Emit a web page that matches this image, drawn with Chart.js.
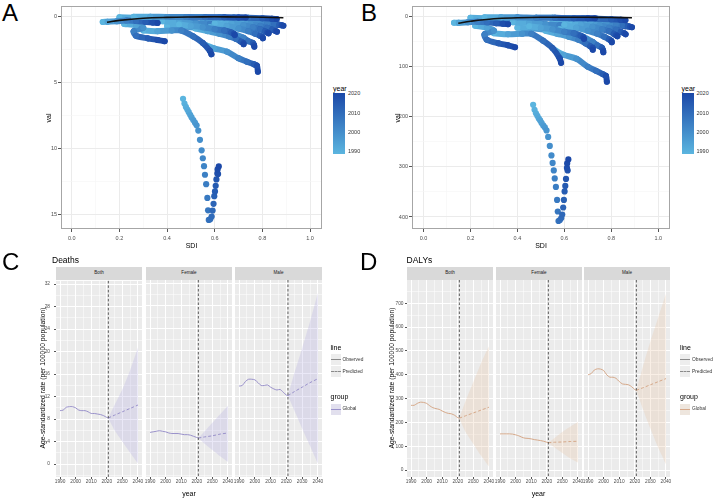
<!DOCTYPE html>
<html>
<head>
<meta charset="utf-8">
<script src="https://cdn.jsdelivr.net/npm/chart.js@4.4.0/dist/chart.umd.min.js"></script>
<style>
  body { margin: 0; width: 713px; height: 499px; overflow: hidden; position: relative; background: #fff;
         font-family: "Liberation Sans", Arial, sans-serif; }
  canvas { position: absolute; }
  .t { position: absolute; white-space: nowrap; line-height: 1; }
  .key { position: absolute; width: 10px; height: 11px; background: #EDEDED; }
  .key i { position: absolute; left: 0; right: 0; top: 5px; height: 0; }
</style>
</head>
<body>
<script>
// ---- A / B : SDI vs rate trajectories, coloured by year ----
const keyYears = [1990, 1995, 2000, 2005, 2010, 2015, 2019, 2021];
const sdiTraj = [
  [0.26, 0.33, 0.40, 0.48, 0.56, 0.64, 0.70, 0.73],
  [0.48, 0.55, 0.62, 0.68, 0.74, 0.80, 0.84, 0.86],
  [0.13, 0.15, 0.19, 0.23, 0.27, 0.31, 0.34, 0.36],
  [0.22, 0.27, 0.30, 0.26, 0.27, 0.32, 0.36, 0.39],
  [0.30, 0.36, 0.42, 0.46, 0.51, 0.55, 0.58, 0.586],
  [0.561, 0.596, 0.652, 0.70, 0.735, 0.765, 0.777, 0.781],
  [0.45, 0.50, 0.55, 0.60, 0.64, 0.67, 0.68, 0.684],
  [0.52, 0.57, 0.62, 0.66, 0.69, 0.71, 0.72, 0.721],
  [0.58, 0.63, 0.68, 0.72, 0.74, 0.76, 0.765, 0.766],
  [0.60, 0.65, 0.70, 0.74, 0.77, 0.79, 0.80, 0.802],
  [0.62, 0.67, 0.72, 0.76, 0.79, 0.81, 0.82, 0.826],
  [0.66, 0.71, 0.75, 0.79, 0.82, 0.84, 0.855, 0.861],
  [0.70, 0.74, 0.78, 0.82, 0.85, 0.87, 0.88, 0.888],
  [0.38, 0.45, 0.52, 0.58, 0.64, 0.70, 0.74, 0.76],
  [0.40, 0.46, 0.52, 0.57, 0.61, 0.64, 0.66, 0.67],
  [0.55, 0.62, 0.68, 0.74, 0.79, 0.83, 0.86, 0.87],
  [0.20, 0.26, 0.32, 0.38, 0.44, 0.50, 0.54, 0.56]
];
const deathTraj = [
  [0.00, 0.00, 0.02, 0.03, 0.04, 0.05, 0.06, 0.06],
  [0.02, 0.03, 0.05, 0.06, 0.08, 0.12, 0.15, 0.18],
  [0.40, 0.38, 0.35, 0.30, 0.33, 0.40, 0.45, 0.48],
  [0.55, 0.65, 0.85, 1.10, 1.45, 1.65, 1.77, 1.87],
  [1.05, 1.10, 1.05, 1.05, 1.50, 2.00, 2.60, 2.86],
  [2.15, 2.40, 2.66, 3.16, 3.42, 3.62, 3.72, 4.18],
  [0.60, 0.70, 0.80, 0.95, 1.05, 1.20, 1.30, 1.39],
  [0.90, 1.10, 1.30, 1.50, 1.70, 1.90, 2.00, 2.10],
  [0.80, 1.00, 1.30, 1.60, 1.85, 2.00, 2.15, 2.28],
  [0.50, 0.70, 0.90, 1.10, 1.30, 1.45, 1.55, 1.64],
  [0.35, 0.50, 0.65, 0.80, 0.95, 1.10, 1.20, 1.26],
  [0.25, 0.40, 0.55, 0.70, 0.85, 0.98, 1.08, 1.14],
  [0.15, 0.25, 0.35, 0.45, 0.55, 0.62, 0.65, 0.68],
  [0.35, 0.40, 0.50, 0.55, 0.60, 0.70, 0.75, 0.80],
  [0.70, 0.75, 0.85, 1.00, 1.15, 1.30, 1.40, 1.45],
  [0.30, 0.35, 0.40, 0.45, 0.50, 0.55, 0.60, 0.62],
  [0.05, 0.08, 0.12, 0.20, 0.30, 0.45, 0.55, 0.60]
];
const dalyTraj = [
  [1, 1, 1, 2, 2, 3, 3, 3],
  [2, 2, 3, 3, 4, 5, 6, 7],
  [12, 12, 11, 10, 11, 13, 14, 15],
  [18, 22, 28, 35, 46, 53, 57, 61],
  [33, 35, 34, 34, 48, 63, 83, 92],
  [67, 76, 84, 100, 108, 115, 118, 130],
  [19, 22, 25, 30, 33, 38, 41, 44],
  [28, 34, 40, 46, 53, 59, 62, 66],
  [25, 31, 40, 50, 57, 62, 67, 71],
  [16, 22, 28, 34, 40, 45, 48, 51],
  [11, 16, 20, 25, 29, 34, 37, 39],
  [8, 12, 17, 22, 26, 30, 33, 35],
  [5, 8, 11, 14, 17, 19, 20, 21],
  [11, 12, 15, 17, 19, 22, 23, 25],
  [22, 23, 26, 31, 36, 40, 43, 45],
  [9, 11, 12, 14, 15, 17, 19, 19],
  [2, 3, 4, 6, 9, 14, 17, 19]
];
const fitSdi = [0.148, 0.2, 0.3, 0.4, 0.5, 0.6, 0.7, 0.8, 0.888];
const fitDeath = [0.43, 0.28, 0.12, 0.05, 0.02, 0.01, 0.02, 0.04, 0.08];
const fitDaly = [13, 9, 4, 2, 1, 1, 1, 1.5, 2];

const focusYears = [1990, 1991, 1992, 1993, 1994, 1995, 1996, 1997, 1998, 1999, 2000, 2001, 2002, 2003, 2004, 2005,
                    2006, 2007, 2008, 2009, 2010, 2011, 2012, 2013, 2014, 2015, 2016, 2017, 2018, 2019, 2020, 2021];
const focusSdi = [0.467, 0.473, 0.479, 0.485, 0.491, 0.497, 0.503, 0.510, 0.517, 0.524, 0.531, 0.538, 0.545, 0.550, 0.555, 0.559,
                  0.564, 0.569, 0.572, 0.575, 0.581, 0.587, 0.591, 0.595, 0.598, 0.601, 0.604, 0.607, 0.614, 0.611, 0.612, 0.617];
const focusDeath = [6.24, 6.60, 6.85, 7.05, 7.25, 7.45, 7.65, 7.85, 8.05, 8.25, 8.65, 9.35, 10.15, 10.75, 11.35, 12.00,
                    12.72, 13.76, 14.70, 15.43, 15.38, 15.18, 14.72, 14.21, 13.63, 13.27, 12.84, 12.36, 11.95, 11.90, 11.60, 11.37];
const focusDaly = [176, 186, 193, 198, 203, 207, 212, 217, 221, 227, 240, 258, 277, 292, 307, 323,
                   340, 366, 389, 408, 406, 402, 395, 381, 366, 349, 338, 324, 307, 302, 293, 285];

// ---- C / D : observed and predicted age-standardized rates ----
const sexes = ['Both', 'Female', 'Male'];
const obsYears = [1990, 1992, 1994, 1996, 1998, 2000, 2002, 2004, 2006, 2008, 2010, 2012, 2014, 2016, 2018, 2020, 2021];
const predYears = [2021, 2025, 2030, 2035, 2040];
const cutYear = 2021;

const deathObs = [
  [9.5, 9.6, 10.1, 10.2, 10.2, 10.0, 9.6, 9.5, 9.5, 9.3, 9.0, 9.0, 8.9, 8.8, 8.6, 8.3, 8.2],
  [5.6, 5.7, 5.8, 5.9, 5.8, 5.7, 5.5, 5.4, 5.4, 5.4, 5.3, 5.2, 5.2, 5.1, 4.9, 4.7, 4.6],
  [13.8, 13.9, 14.6, 15.0, 15.0, 14.9, 14.4, 13.9, 13.9, 14.0, 13.6, 13.3, 13.1, 13.2, 12.7, 12.2, 12.1]
];
const deathPred = [[8.2, 8.7, 9.3, 9.9, 10.5], [4.6, 4.8, 5.0, 5.3, 5.5], [12.1, 12.8, 13.6, 14.4, 15.1]];
const deathUpper = [[8.2, 10.5, 13.3, 16.7, 20.7], [4.6, 5.8, 7.3, 8.8, 10.3], [12.1, 16.0, 20.5, 25.2, 30.3]];
const deathLower = [[8.2, 6.0, 4.0, 2.0, 0.1], [4.6, 3.6, 2.5, 1.4, 0.4], [12.1, 9.5, 6.3, 3.2, 0.1]];

const dalyObs = [
  [272, 272, 280, 285, 284, 280, 270, 262, 258, 255, 248, 242, 238, 236, 230, 220, 218],
  [152, 152, 152, 152, 151, 148, 144, 138, 134, 133, 131, 128, 126, 124, 121, 117, 115],
  [400, 405, 420, 425, 424, 418, 400, 390, 390, 385, 372, 362, 360, 358, 350, 338, 335]
];
const dalyPred = [[218, 228, 240, 252, 264], [115, 117, 118, 120, 121], [335, 345, 358, 371, 384]];
const dalyUpper = [[218, 290, 370, 450, 520], [115, 135, 160, 182, 202], [335, 430, 540, 640, 740]];
const dalyLower = [[218, 160, 110, 60, 15], [115, 95, 72, 50, 32], [335, 260, 175, 95, 25]];

Chart.defaults.font.family = '"Liberation Sans", Arial, sans-serif';

const lowBlue = [91, 181, 223];
const highBlue = [27, 72, 168];
function yearColor(yr) {
  const t = Math.max(0, Math.min(1, (yr - 1990) / (2021 - 1990)));
  const c = lowBlue.map((v, i) => Math.round(v + (highBlue[i] - v) * t));
  return `rgb(${c[0]},${c[1]},${c[2]})`;
}

function makeCanvas(left, top, w, h) {
  const c = document.createElement('canvas');
  c.width = w; c.height = h;
  c.style.left = left + 'px'; c.style.top = top + 'px';
  c.style.width = w + 'px'; c.style.height = h + 'px';
  document.body.appendChild(c);
  return c.getContext('2d');
}

function text(str, x, y, size, opts = {}) {
  const d = document.createElement('div');
  d.className = 't';
  d.textContent = str;
  d.style.fontSize = size + 'px';
  d.style.left = x + 'px';
  d.style.top = y + 'px';
  d.style.color = opts.color || '#000';
  const ax = opts.ax === undefined ? -50 : opts.ax;
  d.style.transform = `translate(${ax}%, -50%)` + (opts.rot ? ` rotate(${opts.rot}deg)` : '');
  document.body.appendChild(d);
  return d;
}

const panelBg = {
  id: 'panelBg',
  beforeDraw(chart, args, opts) {
    const a = chart.chartArea, c = chart.ctx;
    c.save();
    c.fillStyle = opts.color;
    c.fillRect(a.left, a.top, a.right - a.left, a.bottom - a.top);
    c.restore();
  },
  afterDraw(chart, args, opts) {
    if (!opts.border) return;
    const a = chart.chartArea, c = chart.ctx;
    c.save();
    c.strokeStyle = opts.border;
    c.lineWidth = 1;
    c.strokeRect(Math.round(a.left) + 0.5, Math.round(a.top) + 0.5,
                 Math.round(a.right - a.left) - 1, Math.round(a.bottom - a.top) - 1);
    c.restore();
  }
};

const cutLine = {
  id: 'cutLine',
  afterDatasetsDraw(chart, args, opts) {
    const a = chart.chartArea, c = chart.ctx;
    const x = chart.scales.x.getPixelForValue(opts.value);
    c.save();
    c.strokeStyle = '#3a3a3a';
    c.lineWidth = 0.8;
    c.setLineDash([2.5, 2]);
    c.beginPath(); c.moveTo(x, a.top); c.lineTo(x, a.bottom); c.stroke();
    c.restore();
  }
};

// scatter of SDI vs val (panels A and B)
function drawTrajectory(plot, xMin, xMax, yMin, yMax, yStep, vals, fitVals, focusVals) {
  const yW = 30, padR = 10, padT = 6, xH = 16;
  const ctx = makeCanvas(plot.left - yW, plot.top - padT,
                         plot.right - plot.left + yW + padR, plot.bottom - plot.top + padT + xH);
  const datasets = [];
  datasets.push({
    data: fitSdi.map((s, i) => ({x: s, y: fitVals[i]})),
    showLine: true, borderColor: '#111', borderWidth: 1.6, pointRadius: 0, tension: 0.4
  });
  datasets.push({
    data: focusYears.map((yr, i) => ({x: focusSdi[i], y: focusVals[i]})),
    showLine: false, pointRadius: 3.1, pointBorderWidth: 0,
    pointBackgroundColor: focusYears.map(yearColor)
  });
  sdiTraj.forEach((row, i) => {
    datasets.push({
      data: row.map((s, k) => ({x: s, y: vals[i][k]})),
      showLine: true, borderWidth: 6, borderCapStyle: 'round', borderJoinStyle: 'round', tension: 0.3,
      borderColor: yearColor(2005),
      segment: { borderColor: c => yearColor((keyYears[c.p0DataIndex] + keyYears[c.p1DataIndex]) / 2) },
      pointRadius: 3, pointBorderWidth: 0, pointBackgroundColor: keyYears.map(yearColor)
    });
  });

  new Chart(ctx, {
    type: 'scatter',
    data: { datasets },
    plugins: [panelBg],
    options: {
      responsive: false, animation: false, events: [],
      layout: { padding: { top: padT, right: padR, left: 0, bottom: 0 } },
      plugins: { legend: { display: false }, tooltip: { enabled: false },
                 panelBg: { color: '#fff', border: '#a6a6a6' } },
      scales: {
        x: {
          type: 'linear', min: xMin, max: xMax,
          border: { display: false },
          ticks: { stepSize: 0.1, includeBounds: false, autoSkip: false, maxRotation: 0, padding: 3,
                   color: '#4d4d4d', font: { size: 5.5 },
                   callback: v => Math.round(v * 10) % 2 === 0 ? v.toFixed(1) : '' },
          grid: { color: c => Math.round(c.tick.value * 10) % 2 === 0 ? '#EBEBEB' : '#F5F5F5',
                  lineWidth: c => Math.round(c.tick.value * 10) % 2 === 0 ? 1 : 0.6,
                  tickLength: 3,
                  tickColor: c => Math.round(c.tick.value * 10) % 2 === 0 ? '#555' : 'rgba(0,0,0,0)' },
          afterFit: s => { s.height = xH; }
        },
        y: {
          type: 'linear', reverse: true, min: yMin, max: yMax,
          border: { display: false },
          ticks: { stepSize: yStep, includeBounds: false, autoSkip: false, padding: 1,
                   color: '#4d4d4d', font: { size: 5.5 },
                   callback: v => Math.round(v / yStep) % 2 === 0 ? String(v) : '' },
          grid: { color: c => Math.round(c.tick.value / yStep) % 2 === 0 ? '#EBEBEB' : '#F5F5F5',
                  lineWidth: c => Math.round(c.tick.value / yStep) % 2 === 0 ? 1 : 0.6,
                  tickLength: 3,
                  tickColor: c => Math.round(c.tick.value / yStep) % 2 === 0 ? '#555' : 'rgba(0,0,0,0)' },
          afterFit: s => { s.width = yW; }
        }
      }
    }
  });
}

// one facet of panels C and D
function drawFacet(plot, showY, yPad, yMin, yMax, yStep, obs, pred, upper, lower, lineColor, bandColor) {
  const yW = showY ? 22 : 0, padL = showY ? 0 : 10, padR = 10, padT = 6, xH = 12;
  const ctx = makeCanvas(plot.left - yW - padL, plot.top - padT,
                         plot.right - plot.left + yW + padL + padR, plot.bottom - plot.top + padT + xH);
  const major = v => Math.round(v / yStep) % 2 === 0;
  new Chart(ctx, {
    type: 'line',
    data: { datasets: [
      { data: obsYears.map((yr, i) => ({x: yr, y: obs[i]})), borderColor: lineColor, borderWidth: 1,
        pointRadius: 0, tension: 0.3 },
      { data: predYears.map((yr, i) => ({x: yr, y: pred[i]})), borderColor: lineColor, borderWidth: 1,
        borderDash: [3, 2], pointRadius: 0, tension: 0.3 },
      { data: predYears.map((yr, i) => ({x: yr, y: upper[i]})), borderColor: 'rgba(0,0,0,0)', borderWidth: 0,
        pointRadius: 0, fill: '+1', backgroundColor: bandColor, tension: 0.2 },
      { data: predYears.map((yr, i) => ({x: yr, y: lower[i]})), borderColor: 'rgba(0,0,0,0)', borderWidth: 0,
        pointRadius: 0, tension: 0.2 }
    ]},
    plugins: [panelBg, cutLine],
    options: {
      responsive: false, animation: false, events: [],
      layout: { padding: { top: padT, right: padR, left: padL, bottom: 0 } },
      plugins: { legend: { display: false }, tooltip: { enabled: false },
                 panelBg: { color: '#EBEBEB' }, cutLine: { value: cutYear } },
      scales: {
        x: {
          type: 'linear', min: 1987.4, max: 2042.6,
          border: { display: false },
          ticks: { stepSize: 5, includeBounds: false, autoSkip: false, maxRotation: 0, padding: 0,
                   color: '#4d4d4d', font: { size: 4.8 },
                   callback: v => v % 10 === 0 ? String(v) : '' },
          grid: { color: '#fff', lineWidth: c => c.tick.value % 10 === 0 ? 1 : 0.5, tickLength: 2,
                  tickColor: c => c.tick.value % 10 === 0 ? '#555' : 'rgba(0,0,0,0)' },
          afterFit: s => { s.height = xH; }
        },
        y: {
          type: 'linear', min: yMin, max: yMax,
          border: { display: false },
          ticks: { display: showY, stepSize: yStep, includeBounds: false, autoSkip: false, padding: yPad,
                   color: '#4d4d4d', font: { size: 4.8 },
                   callback: v => major(v) ? String(v) : '' },
          grid: { color: '#fff', lineWidth: c => major(c.tick.value) ? 1 : 0.5, drawTicks: showY, tickLength: 2,
                  tickColor: c => major(c.tick.value) ? '#555' : 'rgba(0,0,0,0)' },
          afterFit: s => { s.width = yW; }
        }
      }
    }
  });
}

function colorBar(left) {
  text('year', left, 88, 7, { ax: 0 });
  const bar = document.createElement('div');
  bar.style.cssText = `position:absolute;left:${left}px;top:92.5px;width:12px;height:61px;` +
    `background:linear-gradient(to bottom, ${yearColor(2021)}, ${yearColor(1990)});`;
  document.body.appendChild(bar);
  [2020, 2010, 2000, 1990].forEach(yr => {
    text(String(yr), left + 15, 152.3 - (yr - 1990) * 1.933, 5.5, { ax: 0, color: '#333' });
  });
}

function facetLegend(left, lineColor, bandBg) {
  text('line', left, 346.7, 7, { ax: 0 });
  const keys = [['Observed', 'solid', 359.5], ['Predicted', 'dashed', 371.5]];
  keys.forEach(([lab, style, y]) => {
    const k = document.createElement('div');
    k.className = 'key';
    k.style.left = left + 'px'; k.style.top = (y - 5.5) + 'px';
    k.innerHTML = `<i style="border-top:1px ${style} #8a8a8a"></i>`;
    document.body.appendChild(k);
    text(lab, left + 12, y, 4.8, { ax: 0, color: '#333' });
  });
  text('group', left, 396, 7, { ax: 0 });
  const g = document.createElement('div');
  g.className = 'key';
  g.style.left = left + 'px'; g.style.top = (409 - 5.5) + 'px';
  g.style.background = bandBg;
  g.innerHTML = `<i style="border-top:1px solid ${lineColor}"></i>`;
  document.body.appendChild(g);
  text('Global', left + 12, 409, 4.8, { ax: 0, color: '#333' });
}

// ---- panel A ----
const plotA = { left: 61, right: 322, top: 6, bottom: 229 };
drawTrajectory(plotA, -0.045, 1.05, -0.81, 16.12, 2.5, deathTraj, fitDeath, focusDeath);
text('SDI', (plotA.left + plotA.right) / 2, 245, 7);
text('val', 48, (plotA.top + plotA.bottom) / 2, 7, { rot: -90 });
colorBar(333);

// ---- panel B ----
const plotB = { left: 412, right: 670, top: 6, bottom: 229 };
drawTrajectory(plotB, -0.049, 1.05, -21.5, 424, 50, dalyTraj, fitDaly, focusDaly);
text('SDI', (plotB.left + plotB.right) / 2, 245, 7);
text('val', 396.5, (plotB.top + plotB.bottom) / 2, 7, { rot: -90 });
colorBar(681.5);

// ---- panels C and D ----
const facetsC = [{ left: 56, right: 142 }, { left: 146, right: 232 }, { left: 235, right: 322 }];
const facetsD = [{ left: 407, right: 493 }, { left: 496, right: 582 }, { left: 584, right: 670 }];
const purple = '#9A92CB', purpleBand = 'rgba(172,165,225,0.26)';
const tan = '#D6A98A', tanBand = 'rgba(232,190,150,0.24)';

function strip(f, label) {
  const s = document.createElement('div');
  s.style.cssText = `position:absolute;left:${f.left}px;top:267px;width:${f.right - f.left}px;height:12.5px;` +
    `background:#D9D9D9;`;
  document.body.appendChild(s);
  text(label, (f.left + f.right) / 2, 273.3, 4.6, { color: '#1a1a1a' });
}

sexes.forEach((sex, i) => {
  const fc = { left: facetsC[i].left, right: facetsC[i].right, top: 280, bottom: 477 };
  drawFacet(fc, i === 0, 4, -2.29, 32.56, 2, deathObs[i], deathPred[i], deathUpper[i], deathLower[i], purple, purpleBand);
  strip(fc, sex);
  const fd = { left: facetsD[i].left, right: facetsD[i].right, top: 280, bottom: 477 };
  drawFacet(fd, i === 0, 1.5, -29, 798, 50, dalyObs[i], dalyPred[i], dalyUpper[i], dalyLower[i], tan, tanBand);
  strip(fd, sex);
});

text('Deaths', 52, 260, 8.5, { ax: 0 });
text('DALYs', 406.5, 260, 8.5, { ax: 0 });
text('year', (56 + 322) / 2, 493, 7);
text('year', (407 + 670) / 2, 493, 7);
text('Age-standardized rate (per 100000 population)', 42.5, 378, 6.8, { rot: -90 });
text('Age-standardized rate (per 100000 population)', 392.3, 378, 6.8, { rot: -90 });
facetLegend(330.5, purple, '#E2E0EE');
facetLegend(680, tan, '#EEE6DE');

// panel letters
[['A', 2, 13], ['B', 361, 13], ['C', 2, 262], ['D', 360, 262]].forEach(([l, x, y]) => {
  text(l, x, y, 24, { ax: 0 });
});
</script>
</body>
</html>
